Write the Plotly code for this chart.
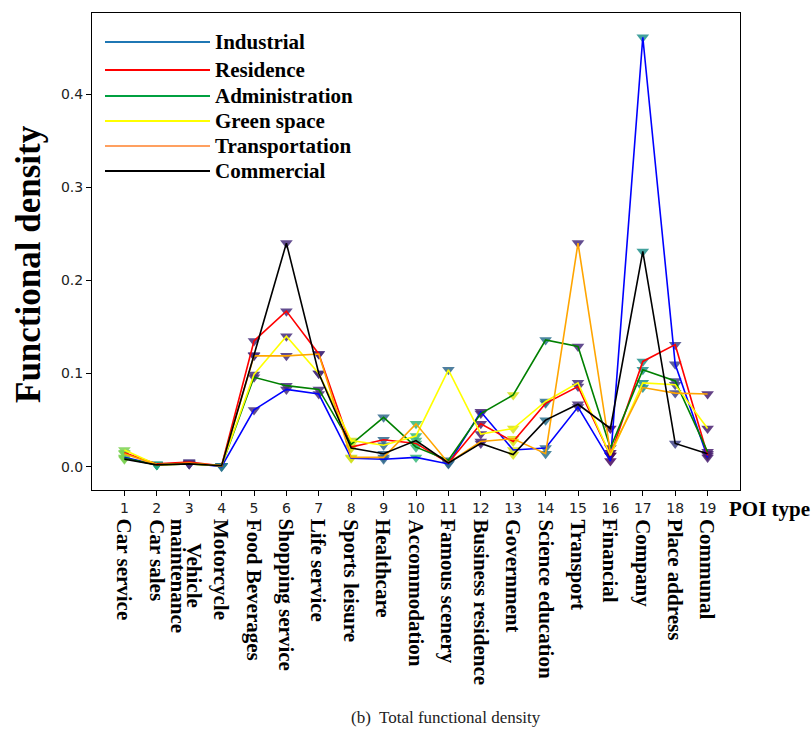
import plotly.graph_objects as go

# ---------------- data ----------------
poi_index = list(range(1, 20))
poi_names = ["Car service", "Car sales", "Vehicle<br>maintenance", "Motorcycle",
             "Food Beverages", "Shopping service", "Life service", "Sports leisure",
             "Healthcare", "Accommodation", "Famous scenery", "Business residence",
             "Government", "Science education", "Transport", "Financial",
             "Company", "Place address", "Communal"]

industrial     = [0.010, 0.002, 0.004, 0.000, 0.061, 0.083, 0.078, 0.009, 0.008, 0.010,
                  0.003, 0.059, 0.018, 0.020, 0.064, 0.006, 0.461, 0.110, 0.010]
residence      = [0.015, 0.003, 0.005, 0.001, 0.135, 0.167, 0.121, 0.021, 0.029, 0.025,
                  0.004, 0.046, 0.027, 0.068, 0.086, 0.012, 0.113, 0.131, 0.012]
administration = [0.009, 0.002, 0.003, 0.001, 0.096, 0.087, 0.083, 0.024, 0.053, 0.021,
                  0.007, 0.057, 0.077, 0.136, 0.129, 0.020, 0.104, 0.092, 0.016]
green_space    = [0.018, 0.002, 0.003, 0.001, 0.099, 0.140, 0.100, 0.028, 0.023, 0.033,
                  0.104, 0.035, 0.041, 0.070, 0.090, 0.012, 0.090, 0.088, 0.041]
transportation = [0.014, 0.002, 0.004, 0.001, 0.119, 0.119, 0.121, 0.010, 0.010, 0.046,
                  0.004, 0.027, 0.030, 0.014, 0.240, 0.015, 0.085, 0.079, 0.078]
commercial     = [0.008, 0.002, 0.003, 0.001, 0.120, 0.240, 0.100, 0.020, 0.014, 0.028,
                  0.004, 0.025, 0.013, 0.050, 0.067, 0.041, 0.231, 0.025, 0.014]

series_names = ["Industrial", "Residence", "Administration", "Green space",
                "Transportation", "Commercial"]
series_values = [industrial, residence, administration, green_space,
                 transportation, commercial]

# ---------------- styles ----------------
line_colors = ["#0000ff", "#ff0000", "#008000", "#ffff00", "#ffa500", "#000000"]
legend_colors = ["#1f77b4", "#ff0000", "#00a040", "#ffff00", "#ffa060", "#000000"]
marker_colors = ["#7ad151", "#22a884", "#46337e", "#2a788e", "#472d7b", "#472d7b",
                 "#472d7b", "#d0e11c", "#31688e", "#35b779", "#31688e", "#482475",
                 "#d8e219", "#2c728e", "#472d7b", "#46085c", "#21918c", "#414487",
                 "#481f70"]

SERIF = "Liberation Serif"
SANS = "DejaVu Sans"

fig = go.Figure()

# markers (drawn under the lines)
for name, vals in zip(series_names, series_values):
    fig.add_trace(go.Scatter(
        x=poi_index, y=vals, mode="markers", showlegend=False,
        marker=dict(symbol="triangle-down", size=11, color=marker_colors,
                    opacity=0.85, line=dict(width=0)),
        hoverinfo="skip"))

# lines
for name, vals, col in zip(series_names, series_values, line_colors):
    fig.add_trace(go.Scatter(
        x=poi_index, y=vals, mode="lines", name=name, showlegend=False,
        line=dict(color=col, width=1.6)))

# plot geometry (pixels)
W, H = 811, 731
L, R, T, B = 92, 740, 13, 490
pw, ph = R - L, B - T

def px_x(p):
    return (p - L) / pw

def px_y(p):
    return (B - p) / ph

annotations = []
shapes = []

# category names below tick numbers (rotated, reading top to bottom)
for i, nm in zip(poi_index, poi_names):
    parts = nm.split("<br>")
    if len(parts) == 1:
        annotations.append(dict(
            x=i, xref="x", y=px_y(517), yref="paper", text="<b>" + nm + "</b>",
            textangle=90, showarrow=False, xanchor="center", yanchor="top",
            font=dict(family=SERIF, size=21, color="black")))
    else:
        # two-line label: first line to the right, second to the left
        annotations.append(dict(
            x=i, xref="x", y=px_y(541), yref="paper", xshift=5,
            text="<b>" + parts[0] + "</b>",
            textangle=90, showarrow=False, xanchor="center", yanchor="top",
            font=dict(family=SERIF, size=21, color="black")))
        annotations.append(dict(
            x=i, xref="x", y=px_y(517), yref="paper", xshift=-11,
            text="<b>" + parts[1] + "</b>",
            textangle=90, showarrow=False, xanchor="center", yanchor="top",
            font=dict(family=SERIF, size=21, color="black")))

# legend drawn manually
legend_rows = [42, 70, 96, 121, 146, 171]
for name, col, row in zip(series_names, legend_colors, legend_rows):
    shapes.append(dict(type="line", xref="paper", yref="paper",
                       x0=px_x(105), x1=px_x(210), y0=px_y(row), y1=px_y(row),
                       line=dict(color=col, width=2)))
    annotations.append(dict(
        x=px_x(213), y=px_y(row), xref="paper", yref="paper",
        text="<b>" + name + "</b>", showarrow=False, xanchor="left",
        yanchor="middle", font=dict(family=SERIF, size=21, color="black")))

# axis titles
annotations.append(dict(
    x=px_x(28), y=px_y(264), xref="paper", yref="paper",
    text="<b>Functional density</b>", textangle=-90, showarrow=False,
    xanchor="center", yanchor="middle",
    font=dict(family=SERIF, size=35, color="black")))
annotations.append(dict(
    x=px_x(727), y=px_y(509), xref="paper", yref="paper",
    text="<b>POI type</b>", showarrow=False, xanchor="left", yanchor="middle",
    font=dict(family=SERIF, size=21, color="black")))
# caption
annotations.append(dict(
    x=px_x(446), y=px_y(717), xref="paper", yref="paper",
    text="(b)  Total functional density", showarrow=False, xanchor="center",
    yanchor="middle", font=dict(family=SERIF, size=17, color="#222")))

fig.update_layout(
    width=W, height=H,
    margin=dict(l=L, r=W - R, t=T, b=H - B),
    paper_bgcolor="white", plot_bgcolor="white",
    showlegend=False,
    annotations=annotations, shapes=shapes,
    xaxis=dict(range=[0, 20], tickmode="array", tickvals=poi_index,
               ticktext=[str(i) for i in poi_index],
               ticks="outside", ticklen=5, tickcolor="black",
               showgrid=False, zeroline=False,
               showline=True, linecolor="black", linewidth=1, mirror=True,
               tickfont=dict(family=SANS, size=14, color="#222")),
    yaxis=dict(range=[-0.025, 0.487], tickmode="array",
               tickvals=[0.0, 0.1, 0.2, 0.3, 0.4],
               ticktext=["0.0", "0.1", "0.2", "0.3", "0.4"],
               ticks="outside", ticklen=5, tickcolor="black",
               showgrid=False, zeroline=False,
               showline=True, linecolor="black", linewidth=1, mirror=True,
               tickfont=dict(family=SANS, size=14, color="#222")),
)

fig.write_html("out.html")
